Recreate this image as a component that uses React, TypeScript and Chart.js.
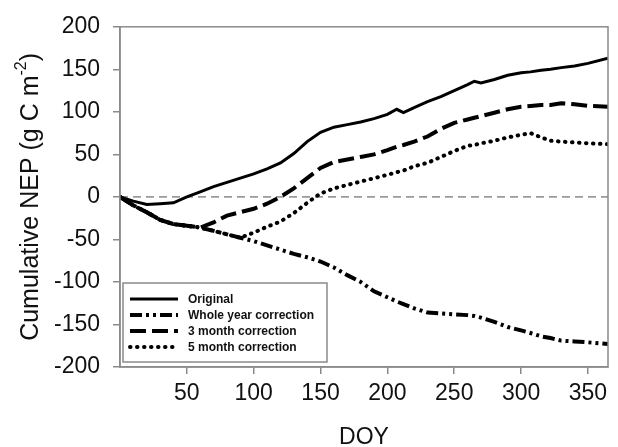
import React, { useEffect, useRef } from "react";
import { Chart, registerables } from "chart.js";

Chart.register(...registerables);

// Day of year at which the cumulative values were read
const DOY = [0, 10, 20, 30, 40, 50, 60, 70, 80, 90, 100, 110, 120, 130, 140, 150, 160, 170, 180, 190, 200, 207, 212, 220, 230, 240, 250, 260, 265, 270, 280, 290, 300, 307, 315, 322, 330, 340, 350, 365];

const originalNEP = [0, -5, -9, -8, -7, 0, 6, 12, 17, 22, 27, 33, 40, 51, 65, 76, 82, 85, 88, 92, 97, 103, 99, 105, 112, 118, 125, 132, 136, 134, 138, 143, 146, 147, 149, 150, 152, 154, 157, 163];
const wholeYearNEP = [0, -10, -18, -27, -32, -34, -36, -40, -44, -48, -52, -57, -62, -67, -71, -76, -83, -92, -100, -111, -118, -123, -126, -131, -136, -137, -138, -139, -140, -142, -147, -153, -157, -160, -164, -166, -169, -170, -171, -173];
const threeMonthNEP = [0, -10, -18, -27, -32, -34, -36, -30, -22, -18, -14, -8, 0, 10, 22, 34, 41, 44, 47, 50, 55, 59, 61, 65, 71, 80, 87, 91, 93, 95, 99, 103, 106, 107, 108, 108, 110, 109, 107, 106];
const fiveMonthNEP = [0, -10, -18, -27, -32, -34, -36, -40, -44, -48, -42, -35, -29, -19, -7, 4, 10, 14, 18, 22, 26, 29, 31, 36, 40, 47, 54, 60, 61, 63, 66, 70, 73, 75, 70, 66, 65, 64, 63, 62];

const seriesLabels = ["Original", "Whole year correction", "3 month correction", "5 month correction"];
const seriesValues = [originalNEP, wholeYearNEP, threeMonthNEP, fiveMonthNEP];

const xTicks = [50, 100, 150, 200, 250, 300, 350];
const yTicks = [-200, -150, -100, -50, 0, 50, 100, 150, 200];
const zeroLineX = [0, 365];
const zeroLineY = [0, 0];

const FONT = '"Liberation Sans", Arial, sans-serif';
const AXIS_GRAY = "#8a8a8a";
const TEXT = "#111111";

const lineStyles = [
  { dash: [] as number[], width: 3, cap: "butt" as CanvasLineCap },
  { dash: [12, 4, 3, 4, 3, 4], width: 4, cap: "butt" as CanvasLineCap },
  { dash: [16, 6], width: 4, cap: "butt" as CanvasLineCap },
  { dash: [0.5, 6.5], width: 4, cap: "round" as CanvasLineCap },
];

const framePlugin = {
  id: "frameAndLegend",
  afterDatasetsDraw(chart: any) {
    const { ctx, chartArea: a } = chart;
    ctx.save();
    ctx.strokeStyle = AXIS_GRAY;
    ctx.lineWidth = 1.5;
    ctx.setLineDash([]);
    ctx.strokeRect(a.left, a.top, a.right - a.left, a.bottom - a.top);

    // legend box
    const lx = a.left + 3;
    const lh = 79;
    const lw = 204;
    const ly = a.bottom - 5 - lh;
    ctx.fillStyle = "#ffffff";
    ctx.fillRect(lx, ly, lw, lh);
    ctx.strokeRect(lx, ly, lw, lh);
    seriesLabels.forEach((lab, i) => {
      const y = ly + 16 + i * 16;
      const st = lineStyles[i];
      ctx.beginPath();
      ctx.setLineDash(st.dash);
      ctx.lineCap = st.cap;
      ctx.lineWidth = st.width;
      ctx.strokeStyle = "#000";
      ctx.moveTo(lx + 7, y);
      ctx.lineTo(lx + 55, y);
      ctx.stroke();
      ctx.setLineDash([]);
      ctx.fillStyle = TEXT;
      ctx.font = `bold 12px ${FONT}`;
      ctx.textBaseline = "middle";
      ctx.textAlign = "left";
      ctx.fillText(lab, lx + 65, y + 0.5);
    });
    ctx.restore();
  },
  afterDraw(chart: any) {
    const { ctx, chartArea: a } = chart;
    ctx.save();
    const main = "Cumulative NEP (g C m";
    const sup = "-2";
    const end = ")";
    const big = `25px ${FONT}`;
    const small = `16px ${FONT}`;
    ctx.font = big;
    const w1 = ctx.measureText(main).width;
    const w3 = ctx.measureText(end).width;
    ctx.font = small;
    const w2 = ctx.measureText(sup).width;
    const total = w1 + w2 + w3;
    ctx.translate(31, (a.top + a.bottom) / 2);
    ctx.rotate(-Math.PI / 2);
    ctx.fillStyle = TEXT;
    ctx.textBaseline = "middle";
    ctx.textAlign = "left";
    let x = -total / 2;
    ctx.font = big;
    ctx.fillText(main, x, 0);
    x += w1;
    ctx.font = small;
    ctx.fillText(sup, x, -9);
    x += w2;
    ctx.font = big;
    ctx.fillText(end, x, 0);
    ctx.restore();
  },
};

export default function App() {
  const ref = useRef<HTMLCanvasElement | null>(null);
  useEffect(() => {
    if (!ref.current) return;
    const datasets: any[] = seriesLabels.map((lab, i) => ({
      label: lab,
      data: DOY.map((d, j) => ({ x: d, y: seriesValues[i][j] })),
      borderColor: "#000000",
      borderWidth: lineStyles[i].width,
      borderDash: lineStyles[i].dash,
      borderCapStyle: lineStyles[i].cap,
      pointRadius: 0,
      tension: 0,
      fill: false,
    }));
    datasets.push({
      label: "zero",
      data: zeroLineX.map((d, j) => ({ x: d, y: zeroLineY[j] })),
      borderColor: "#9a9a9a",
      borderWidth: 1.8,
      borderDash: [8, 5],
      pointRadius: 0,
      fill: false,
    });
    const chart = new Chart(ref.current, {
      type: "line",
      data: { datasets },
      plugins: [framePlugin as any],
      options: {
        animation: false,
        responsive: false,
        layout: { padding: { top: 18, right: 10, left: 0, bottom: 0 } },
        plugins: { legend: { display: false }, tooltip: { enabled: false } },
        scales: {
          x: {
            type: "linear",
            min: 0,
            max: 365,
            afterBuildTicks: (s: any) => {
              s.ticks = xTicks.map((v) => ({ value: v }));
            },
            afterFit: (s: any) => {
              s.height = 80;
            },
            grid: { drawOnChartArea: false, drawTicks: true, tickLength: 7, color: AXIS_GRAY, lineWidth: 1.5 },
            border: { display: true, color: AXIS_GRAY, width: 1.5 },
            ticks: { color: TEXT, font: { family: FONT, size: 23 }, padding: 6, maxRotation: 0, autoSkip: false },
            title: { display: true, text: "DOY", color: TEXT, font: { family: FONT, size: 23, lineHeight: 0.8 }, padding: { top: 0, bottom: 0 } },
          },
          y: {
            type: "linear",
            min: -200,
            max: 200,
            afterBuildTicks: (s: any) => {
              s.ticks = yTicks.map((v) => ({ value: v }));
            },
            afterFit: (s: any) => {
              s.width = 120;
            },
            grid: { drawOnChartArea: false, drawTicks: true, tickLength: 7, color: AXIS_GRAY, lineWidth: 1.5 },
            border: { display: true, color: AXIS_GRAY, width: 1.5 },
            ticks: { color: TEXT, font: { family: FONT, size: 23 }, padding: 13, autoSkip: false },
          },
        },
      },
    });
    return () => chart.destroy();
  }, []);
  return (
    <div style={{ position: "fixed", left: 0, top: 0, width: 618, height: 447, background: "#fff" }}>
      <canvas ref={ref} width={618} height={447} style={{ width: 618, height: 447, display: "block" }} />
    </div>
  );
}
